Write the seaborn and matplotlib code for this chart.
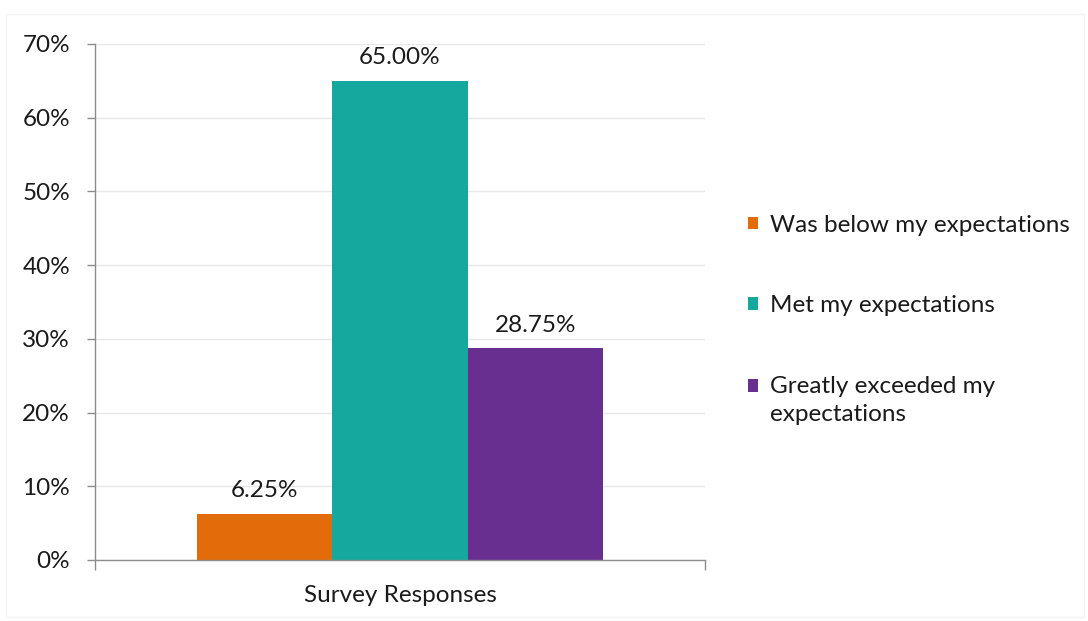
import matplotlib
matplotlib.use("Agg")
import matplotlib.pyplot as plt
import matplotlib.patches as mpatches
import seaborn as sns
import pandas as pd
from matplotlib.ticker import FuncFormatter, FixedLocator

category = ["Survey Responses"]
responses = ["Was below my expectations", "Met my expectations", "Greatly exceeded my expectations"]
legend_labels = ["Was below my expectations", "Met my expectations", "Greatly exceeded my\nexpectations"]
values = [6.25, 65.00, 28.75]
value_labels = ["6.25%", "65.00%", "28.75%"]
colors = ["#E36C0A", "#14A89E", "#682F91"]
y_ticks = [0, 10, 20, 30, 40, 50, 60, 70]

df = pd.DataFrame({"category": category * len(responses), "response": responses, "value": values})

sns.set_theme(style="white")
plt.rcParams["font.family"] = ["Lato", "DejaVu Sans"]
FS = 17.5

fig = plt.figure(figsize=(10.88, 6.21), dpi=100)
fig.patch.set_facecolor("white")
fig.patches.append(mpatches.Rectangle((6/1088, 4/621), 1078/1088, 603/621, transform=fig.transFigure,
                                      fill=False, edgecolor="#f3f3f3", linewidth=1))
ax = fig.add_axes([95/1088, 1-560/621, 610/1088, 516/621])

sns.barplot(data=df, x="category", y="value", hue="response", hue_order=responses,
            palette=colors, width=0.667, ax=ax, saturation=1, legend=True, edgecolor="none", linewidth=0)

for cont, lab in zip(ax.containers, value_labels):
    ax.bar_label(cont, labels=[lab], padding=9, fontsize=FS, color="#1a1a1a")

ax.set_xlim(-0.5, 0.5)
ax.set_ylim(0, 70)
ax.yaxis.set_major_locator(FixedLocator(y_ticks))
ax.yaxis.set_major_formatter(FuncFormatter(lambda v, p: f"{v:.0f}%"))
ax.grid(axis="y", color="#e8e8e8", linewidth=1)
ax.set_axisbelow(True)
for s in ["top", "right"]:
    ax.spines[s].set_visible(False)
for s in ["left", "bottom"]:
    ax.spines[s].set_color("#8c8c8c")
    ax.spines[s].set_linewidth(1)
ax.tick_params(axis="y", which="major", length=6, width=1, color="#8c8c8c", pad=12,
               labelsize=FS, labelcolor="#1a1a1a", left=True)
ax.set_xticks([0])
ax.set_xticklabels(category)
ax.set_xticks([-0.5, 0.5], minor=True)
ax.tick_params(axis="x", which="major", length=0, pad=18, labelsize=FS, labelcolor="#1a1a1a")
ax.tick_params(axis="x", which="minor", length=7, width=1, color="#8c8c8c", bottom=True)
ax.set_xlabel("")
ax.set_ylabel("")

handles, _ = ax.get_legend_handles_labels()
leg = ax.legend(handles, legend_labels, loc="center left", bbox_to_anchor=(748/1088, 1-320/621),
                bbox_transform=fig.transFigure, frameon=False, fontsize=FS, handlelength=0.42,
                handleheight=0.42, handletextpad=0.5, labelspacing=2.45, labelcolor="#1a1a1a",
                borderpad=0, borderaxespad=0)
for t in leg.get_texts():
    t.set_linespacing(1.45)
# align the multi-line entry's marker with its first line
h3 = leg.legend_handles[2]
h3.set_y(h3.get_y() + 10.5)

fig.savefig("out.png", dpi=100)
